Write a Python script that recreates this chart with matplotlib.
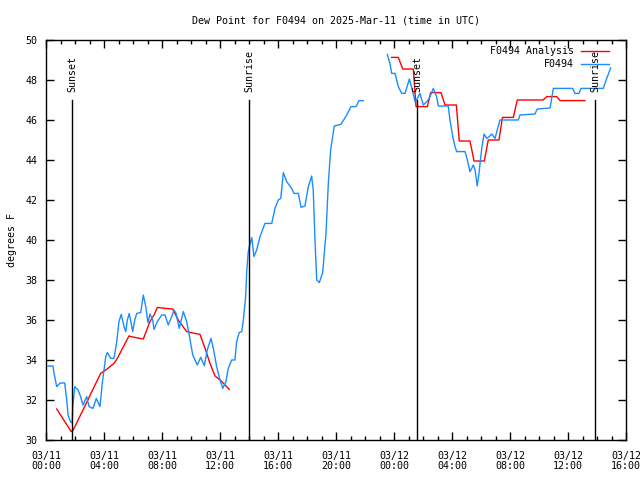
import datetime as dt
import numpy as np
import matplotlib
matplotlib.use("Agg")
import matplotlib.pyplot as plt
import matplotlib.dates as mdates

base = dt.datetime(2025, 3, 11, 0, 0)

# observed dew point (hours after 03/11 00:00 UTC, deg F); nan = gap
obs_hours = [0.14, 0.48, 0.55, 0.74, 0.97, 1.29, 1.43, 1.52, 1.70, 1.81, 1.84, 1.98,
             2.21, 2.39, 2.55, 2.81, 2.97, 3.24, 3.47, 3.72, 3.88, 4.12, 4.23, 4.46,
             4.69, 4.88, 5.03, 5.19, 5.38, 5.50, 5.61, 5.74, 5.88, 5.98, 6.12, 6.26,
             6.53, 6.71, 6.88, 7.03, 7.17, 7.36, 7.45, 7.68, 7.98, 8.21, 8.43, 8.67,
             8.83, 8.97, 9.19, 9.47, 9.70, 9.88, 10.12, 10.43, 10.67, 10.92, 11.12,
             11.38, 11.54, 11.77, 12.00, 12.19, 12.41, 12.57, 12.81, 13.03, 13.15,
             13.33, 13.50, 13.61, 13.77, 13.84, 13.95, 14.07, 14.19, 14.34, 14.53,
             14.76, 15.10, 15.57, 15.79, 16.02, 16.19, 16.37, 16.60, 16.94, 17.10,
             17.40, 17.59, 17.86, 18.09, 18.32, 18.43, 18.55, 18.67, 18.85, 19.08,
             19.31, 19.47, 19.63, 19.88, 20.34, 20.74, 21.03, 21.38, 21.59, 21.88,
             22.7,
             23.54, 23.72, 23.84, 24.07, 24.30, 24.53, 24.76, 25.06, 25.29, 25.45,
             25.61, 25.79, 26.02, 26.26, 26.43, 26.71, 26.94, 27.06, 27.74, 27.86,
             28.05, 28.21, 28.32, 28.90, 29.06, 29.24, 29.36, 29.47, 29.59, 29.74,
             29.86, 30.05, 30.21, 30.39, 30.57, 30.74, 30.97, 31.12, 31.31, 32.57,
             32.69, 33.72, 33.88, 34.76, 34.99, 36.32, 36.48, 36.76, 36.90, 38.43,
             38.67, 38.94]
obs_vals = [33.7, 33.7, 33.35, 32.67, 32.85, 32.85, 32.0, 31.25, 30.9, 30.85, 31.6, 32.67,
            32.5, 32.17, 31.75, 32.17, 31.67, 31.58, 32.08, 31.67, 32.83, 34.17, 34.37, 34.08,
            34.08, 34.92, 35.92, 36.28, 35.67, 35.42, 36.0, 36.33, 35.83, 35.42, 36.0, 36.33,
            36.37, 37.25, 36.67, 35.87, 36.3, 36.0, 35.53, 35.92, 36.25, 36.25, 35.75, 36.17,
            36.5, 36.33, 35.58, 36.42, 35.92, 35.25, 34.25, 33.75, 34.13, 33.72, 34.5,
            35.08, 34.58, 33.67, 33.0, 32.58, 32.92, 33.58, 34.0, 34.0, 34.92,
            35.38, 35.42, 36.0, 37.17, 38.4, 39.42, 39.8, 40.12, 39.17, 39.5,
            40.17, 40.83, 40.83, 41.58, 42.0, 42.08, 43.37, 42.92, 42.58, 42.33,
            42.33, 41.63, 41.7, 42.67, 43.2, 42.5, 40.0, 38.0, 37.87, 38.37,
            40.33, 42.83, 44.5, 45.7, 45.78, 46.25, 46.67, 46.67, 46.97, 46.97,
            np.nan,
            49.28, 48.83, 48.33, 48.33, 47.67, 47.33, 47.33, 48.05, 47.42, 46.92,
            47.08, 47.33, 46.75, 46.92, 47.08, 47.58, 47.17, 46.7, 46.7, 46.0,
            45.17, 44.67, 44.42, 44.42, 44.0, 43.42, 43.58, 43.75, 43.5, 42.7,
            43.33, 44.58, 45.3, 45.08, 45.17, 45.3, 45.08, 45.5, 46.0, 46.0,
            46.25, 46.3, 46.55, 46.6, 47.58, 47.58, 47.33, 47.33, 47.58, 47.58,
            48.08, 48.6]

# analysis dew point
ana_hours = [0.74, 1.74, 1.88, 3.77, 4.12, 4.69, 4.92, 5.72, 6.12, 6.71, 7.17, 7.45,
             7.68, 8.21, 8.74, 9.12, 9.70, 9.93, 10.62, 10.97, 11.31, 11.66, 12.05, 12.64,
             18.0,
             23.84, 24.30, 24.60, 25.33, 25.52, 26.30, 26.53, 27.24, 27.52, 28.30,
             28.50, 29.24, 29.52, 30.23, 30.50, 31.24, 31.48, 32.23, 32.50, 34.28,
             34.53, 35.22, 35.45, 37.17]
ana_vals = [31.55, 30.42, 30.5, 33.33, 33.5, 33.83, 34.08, 35.2, 35.13, 35.05, 35.92, 36.25,
            36.63, 36.58, 36.55, 36.0, 35.42, 35.38, 35.28, 34.58, 33.83, 33.2, 32.97, 32.53,
            np.nan,
            49.13, 49.13, 48.55, 48.55, 46.67, 46.67, 47.37, 47.37, 46.75, 46.75,
            44.95, 44.95, 43.95, 43.95, 45.0, 45.0, 46.13, 46.13, 47.0, 47.0,
            47.17, 47.17, 46.97, 46.97]

sun_labels = ["Sunset", "Sunrise", "Sunset", "Sunrise"]
sun_hours = [1.79, 14.0, 25.59, 37.86]


def to_dates(hours):
    return [base + dt.timedelta(hours=h) for h in hours]


plt.rcParams['font.family'] = 'DejaVu Sans Mono'
plt.rcParams['font.size'] = 7.2

fig = plt.figure(figsize=(6.4, 4.8), dpi=100)
ax = fig.add_axes([46 / 640, 40 / 480, 580 / 640, 400 / 480])

ax.plot(to_dates(ana_hours), ana_vals, color='#ff0000', lw=1, label='F0494 Analysis')
ax.plot(to_dates(obs_hours), obs_vals, color='#1a8cff', lw=1, label='F0494')

for name, h in zip(sun_labels, sun_hours):
    t = base + dt.timedelta(hours=h)
    ax.plot([t, t], [30, 47], color='black', lw=1)
    ax.text(t, 47.4, name, rotation=90, ha='center', va='bottom')

ax.set_xlim(base, base + dt.timedelta(hours=40))
ax.set_ylim(30, 50)
ax.set_yticks(np.arange(30, 51, 2))
ax.xaxis.set_major_locator(mdates.HourLocator(byhour=range(0, 24, 4)))
ax.xaxis.set_minor_locator(mdates.HourLocator())
ax.xaxis.set_major_formatter(mdates.DateFormatter('%m/%d\n%H:%M'))
ax.tick_params(which='both', direction='in', top=True, right=True, width=1)
ax.tick_params(which='major', length=6, pad=6)
ax.tick_params(axis='x', which='major', pad=8)
ax.tick_params(which='minor', length=3)
for s in ax.spines.values():
    s.set_linewidth(1)

ax.set_ylabel('degrees F')
ax.yaxis.set_label_coords(-0.05, 0.5)
ax.set_title('Dew Point for F0494 on 2025-Mar-11 (time in UTC)', fontsize=7.2, pad=12)
ax.legend(loc='upper right', bbox_to_anchor=(0.976, 0.992), markerfirst=False,
          frameon=False, handlelength=2.8, handletextpad=0.7, labelspacing=0.3,
          borderaxespad=0, borderpad=0.3)

fig.canvas.draw()
for lbl in ax.get_xticklabels():
    lbl.set_linespacing(1.0)

fig.savefig('out.png', dpi=100)
